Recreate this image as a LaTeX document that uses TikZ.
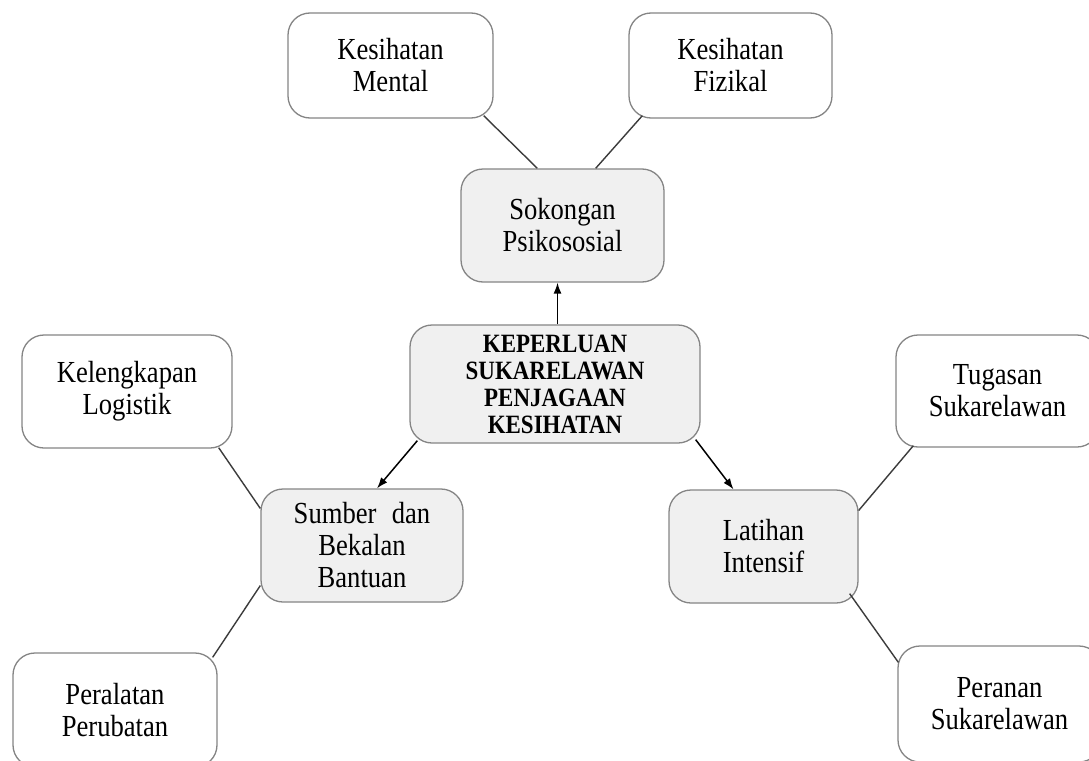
\documentclass[tikz,border=0pt]{standalone}
\usepackage{fontspec}
\setmainfont{Liberation Serif}[FakeStretch=0.87]
\usetikzlibrary{calc,arrows.meta}
\tikzset{
  box/.style={draw=boxgray, line width=1.3pt, rounded corners=22pt, fill=white,
    inner sep=0pt, align=center, font=\fontsize{30.6}{32}\selectfont},
  graybox/.style={box, fill=boxfill},
  mainbox/.style={box, fill=boxfill, font=\fontsize{26.4}{27}\selectfont\bfseries},
  link/.style={draw=linegray, line width=1.4pt},
  arr/.style={draw=black, line width=1.5pt, -{Latex[length=11pt,width=8pt]}}
}
\definecolor{boxgray}{HTML}{858585}
\definecolor{boxfill}{HTML}{F0F0F0}
\definecolor{linegray}{HTML}{3C3C3C}
\begin{document}
\begin{tikzpicture}[x=1pt,y=-1pt]
\useasboundingbox (0,0) rectangle (1089,760);
\fill[white] (0,0) rectangle (1089,760);
\clip (0,0) rectangle (1089,760);

\node[box, minimum width=205pt, minimum height=105pt] (ment) at (390.5,65.5) {Kesihatan\\Mental};
\node[box, minimum width=203pt, minimum height=105pt] (fiz) at (730.5,65.5) {Kesihatan\\Fizikal};
\node[graybox, minimum width=203pt, minimum height=113pt] (sok) at (562.5,225.5) {Sokongan\\Psikososial};
\node[mainbox, minimum width=290pt, minimum height=118pt] (main) at (555,384) {KEPERLUAN\\SUKARELAWAN\\PENJAGAAN\\KESIHATAN};
\node[box, minimum width=210pt, minimum height=113pt] (kel) at (127,391.5) {Kelengkapan\\Logistik};
\node[box, minimum width=203pt, minimum height=112pt] (tug) at (997.5,391) {Tugasan\\Sukarelawan};
\node[graybox, minimum width=202pt, minimum height=113pt] (sum) at (362,545.5) {Sumber\hspace{0.5em}dan\\Bekalan\\Bantuan};
\node[graybox, minimum width=189pt, minimum height=113pt] (lat) at (763.5,546.5) {Latihan\\Intensif};
\node[box, minimum width=204pt, minimum height=114pt] (pal) at (115,710) {Peralatan\\Perubatan};
\node[box, minimum width=203pt, minimum height=116pt] (per) at (999.5,704) {Peranan\\Sukarelawan};

\draw[link] ($(ment.south east)+(-10,-3)$) -- ($(sok.north west)+(77,0)$);
\draw[link] ($(fiz.south west)+(14,-3)$) -- ($(sok.north east)+(-69,0)$);
\draw[link] ($(kel.south east)+(-14,-1)$) -- ($(sum.west)+(0,-37)$);
\draw[link] ($(sum.west)+(0,40)$) -- ($(pal.north east)+(-5,5)$);
\draw[link] ($(lat.east)+(0,-36)$) -- ($(tug.south west)+(18,-2)$);
\draw[link] ($(lat.south east)+(-9,-10)$) -- ($(per.north west)+(1,17)$);

\draw[arr] ($(sok.south |- main.north)+(-5,0)$) -- ($(sok.south)+(-5,0)$);
\draw[arr] ($(main.south west)+(8,-3)$) -- ($(sum.north)+(15,0)$);
\draw[arr] ($(main.south east)+(-5,-4)$) -- ($(lat.north)+(-30,0)$);
\end{tikzpicture}
\end{document}
